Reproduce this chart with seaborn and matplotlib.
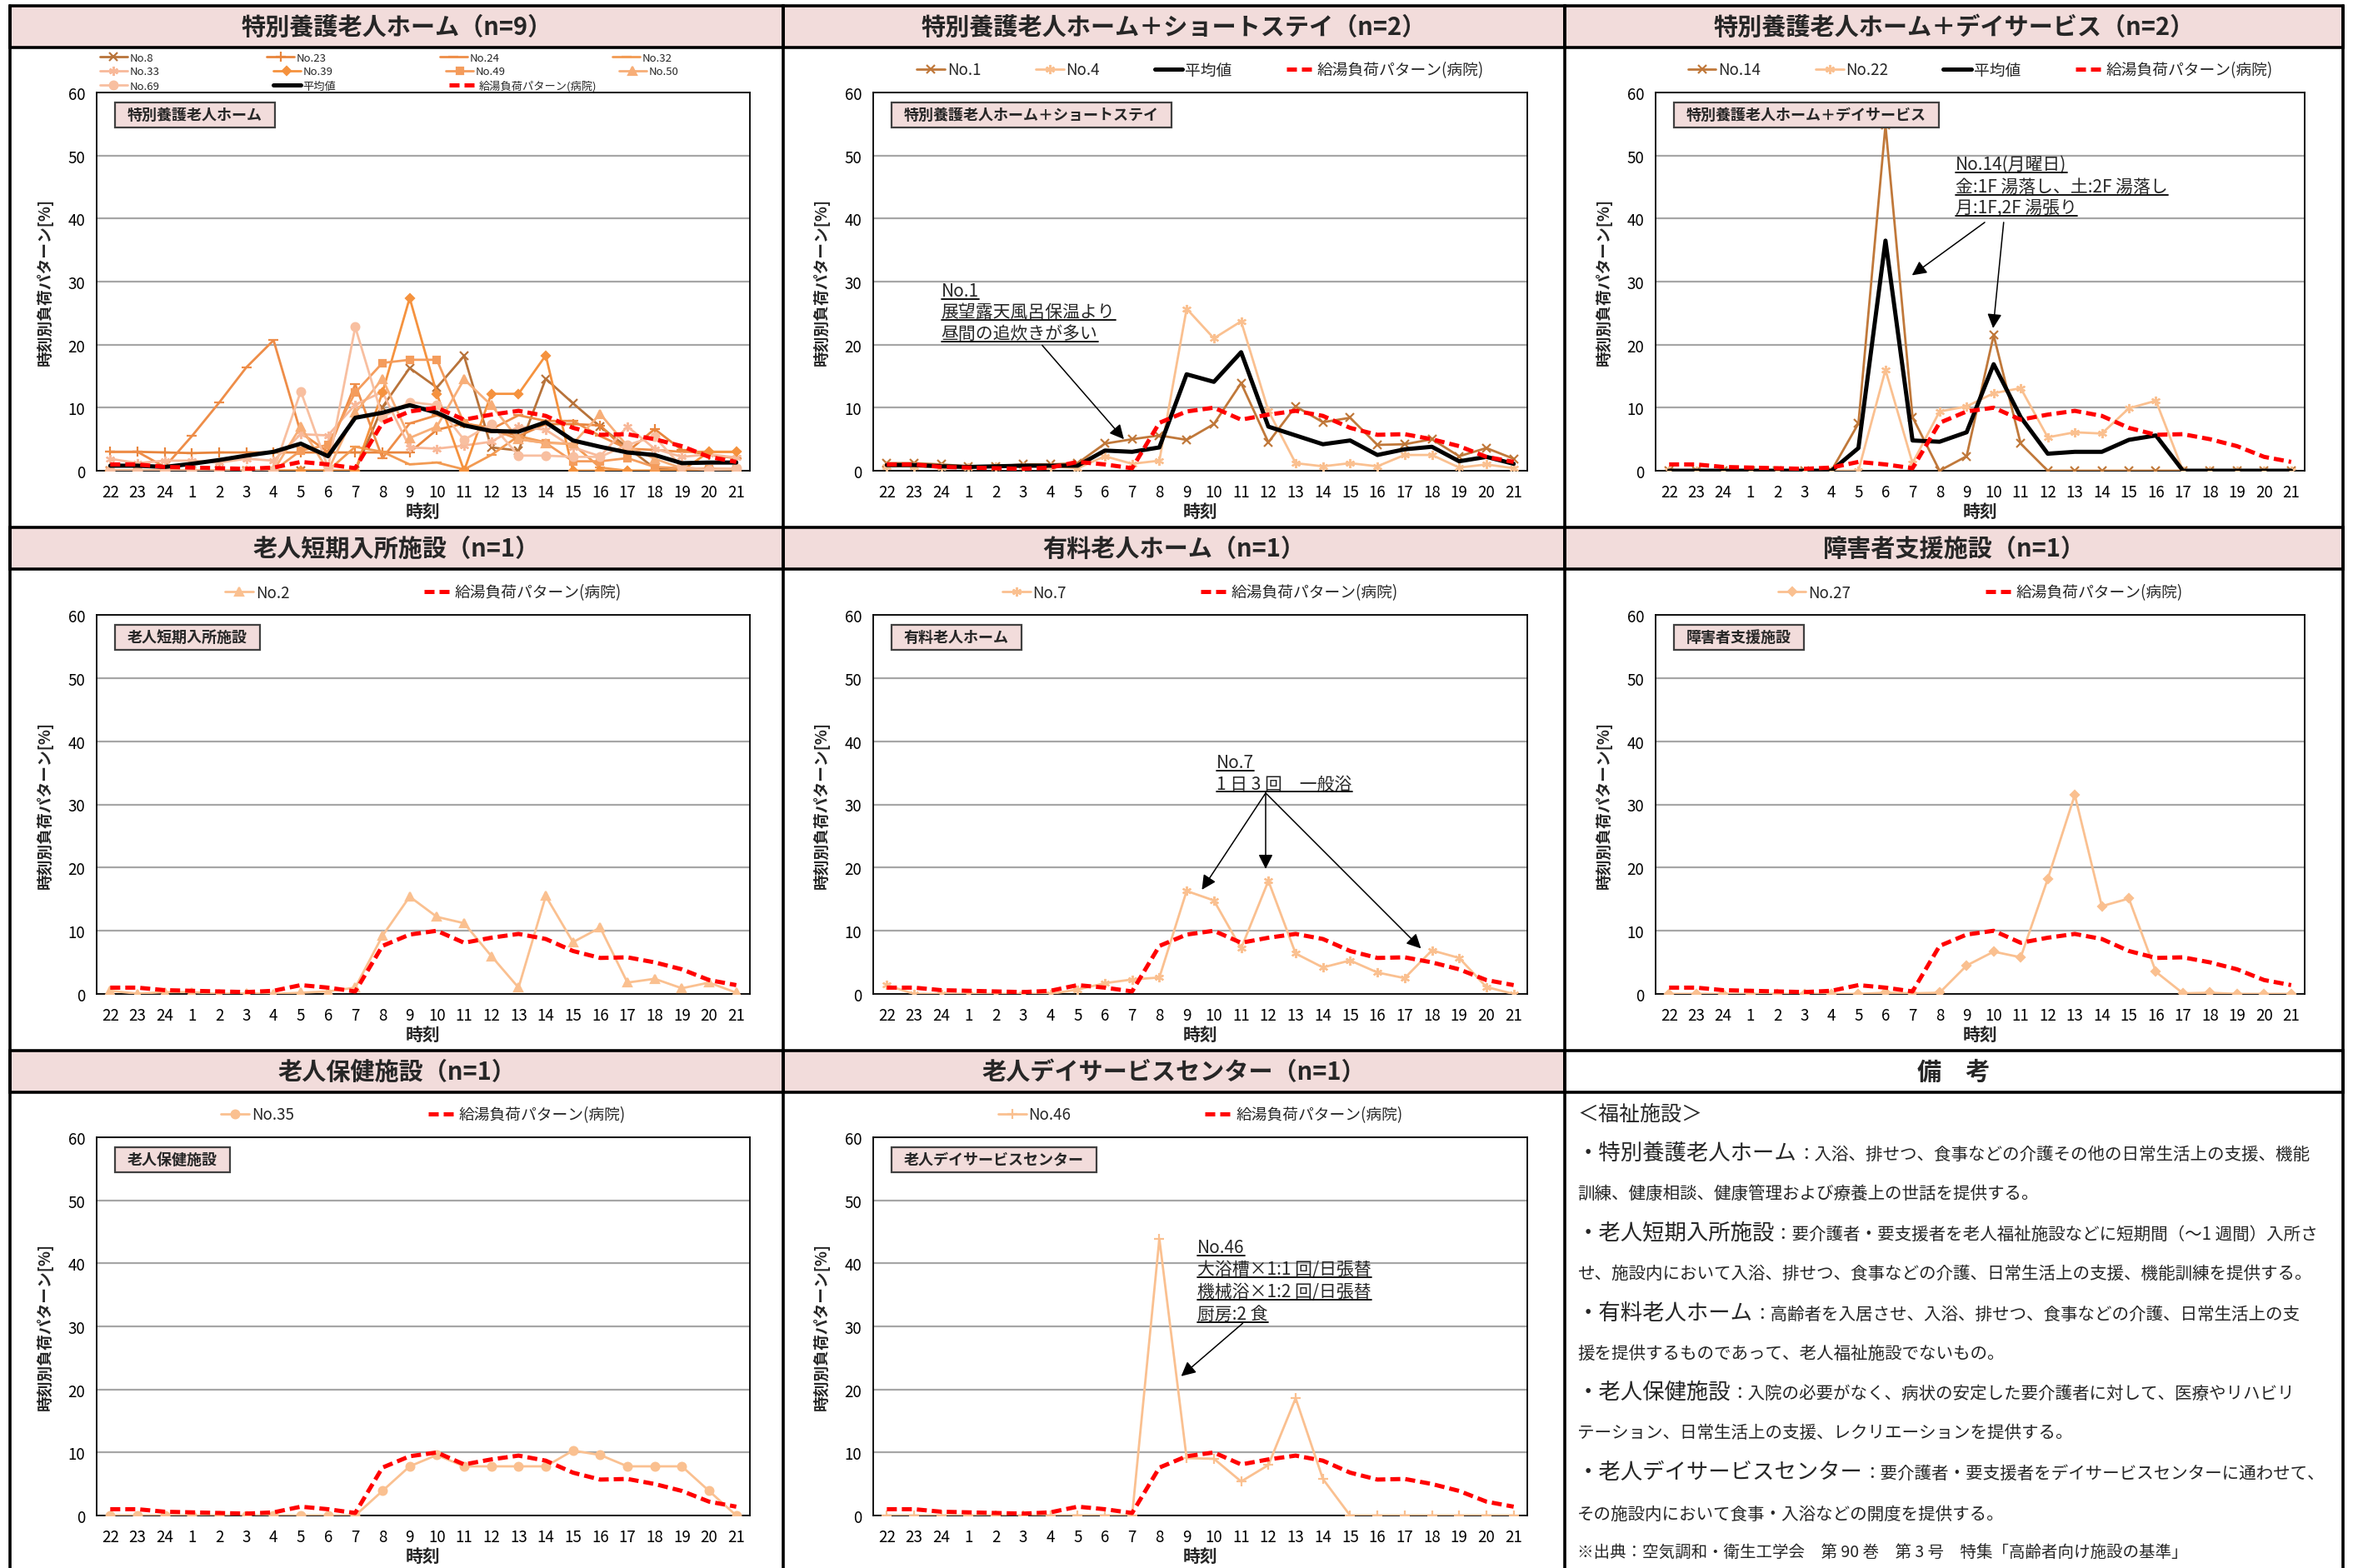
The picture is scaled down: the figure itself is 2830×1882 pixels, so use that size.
import numpy as np
import matplotlib
matplotlib.use('Agg')
import matplotlib.pyplot as plt
import seaborn as sns
from matplotlib.patches import Rectangle
from matplotlib.lines import Line2D

# ---------------- data ----------------
hours = ['22', '23', '24', '1', '2', '3', '4', '5', '6', '7', '8', '9', '10',
         '11', '12', '13', '14', '15', '16', '17', '18', '19', '20', '21']

hospital = [1.0, 1.0, 0.6, 0.5, 0.4, 0.3, 0.5, 1.4, 1.0, 0.4, 7.6, 9.4, 10.0,
            8.1, 8.9, 9.5, 8.7, 6.8, 5.7, 5.8, 5.0, 3.9, 2.2, 1.4]

# panel 1 : 特別養護老人ホーム (n=9)
no8 = [0, 0, 0, 0, 0, 0, 0, 0, 0, 0, 10.1, 16.3, 13.2, 18.2, 3.7, 3.2, 14.6, 10.7, 7.0, 3.7, 0.4, 0, 0, 0]
no23 = [3.0, 3.0, 2.9, 2.8, 2.9, 2.9, 2.9, 2.9, 2.9, 2.9, 2.9, 2.9, 6.5, 7.5, 6.8, 5.5, 7.4, 7.4, 7.2, 3.0, 6.6, 3.3, 2.5, 2.0]
no24 = [3.0, 3.0, 0.6, 5.5, 10.8, 16.4, 20.7, 6.0, 3.0, 13.7, 2.0, 7.5, 8.8, 7.5, 6.6, 8.8, 7.9, 7.9, 5.5, 3.5, 3.3, 3.0, 3.0, 3.0]
no32 = [0, 0, 0, 0, 0, 0, 0, 0, 0, 3.8, 3.0, 1.0, 1.3, 0.2, 2.5, 5.5, 4.5, 4.2, 0.5, 0, 0, 0, 0, 0]
no33 = [1.9, 1.2, 1.6, 1.6, 1.3, 1.9, 1.6, 5.8, 5.6, 10.5, 12.5, 3.7, 3.5, 4.0, 4.6, 7.0, 6.5, 3.7, 2.3, 7.0, 3.5, 2.2, 2.6, 2.1]
no39 = [0, 0, 0, 0, 0, 0, 0, 0, 0, 0, 12.4, 27.4, 12.2, 0, 12.2, 12.2, 18.3, 0, 0, 0, 0, 0, 3.0, 3.0]
no49 = [0, 0, 0, 0, 0, 0, 0, 3.2, 4.1, 12.4, 17.1, 17.6, 17.6, 7.5, 6.6, 5.0, 4.4, 1.5, 1.5, 2.0, 0.6, 0.4, 0.3, 0.3]
no50 = [0, 0, 0, 0, 0, 0, 0, 7.0, 0, 9.2, 14.6, 5.2, 7.0, 14.5, 10.4, 5.0, 4.4, 4.3, 9.0, 3.9, 1.9, 0.4, 0.3, 0]
no69 = [0, 0, 0, 0, 0, 0, 0, 12.6, 0.5, 22.8, 8.5, 10.9, 10.4, 4.9, 7.4, 2.4, 2.4, 2.2, 2.2, 4.1, 5.4, 0.6, 0.1, 0.4]
mean1 = [0.8, 0.8, 0.6, 1.1, 1.7, 2.4, 3.0, 4.3, 2.3, 8.4, 9.2, 10.4, 9.2, 7.2, 6.3, 6.2, 7.7, 4.8, 3.8, 2.9, 2.5, 1.2, 1.3, 1.3]

# panel 2 : 特別養護老人ホーム＋ショートステイ (n=2)
no1 = [1.2, 1.2, 1.0, 0.7, 0.7, 1.0, 1.0, 1.2, 4.3, 5.0, 5.6, 4.9, 7.4, 13.9, 4.5, 10.2, 7.7, 8.4, 4.1, 4.2, 5.0, 2.3, 3.6, 1.9]
no4 = [0.7, 0.7, 0.5, 0.5, 0.7, 0.7, 0.7, 0.4, 2.3, 1.1, 1.6, 25.7, 21.0, 23.7, 9.5, 1.2, 0.7, 1.2, 0.7, 2.5, 2.5, 0.5, 1.0, 0.4]
mean2 = [0.9, 0.9, 0.7, 0.6, 0.7, 0.8, 0.8, 0.8, 3.2, 3.0, 3.7, 15.3, 14.1, 18.8, 7.0, 5.6, 4.2, 4.8, 2.5, 3.4, 3.8, 1.5, 2.2, 1.1]

# panel 3 : 特別養護老人ホーム＋デイサービス (n=2)
no14 = [0, 0, 0, 0, 0, 0, 0, 7.5, 54.8, 8.5, 0, 2.3, 21.5, 4.3, 0, 0, 0, 0, 0, 0, 0, 0, 0, 0]
no22 = [0, 0, 0, 0, 0, 0, 0, 0, 16.0, 1.2, 9.4, 10.2, 12.3, 13.1, 5.3, 6.1, 5.9, 9.9, 11.1, 0, 0, 0, 0, 0]
mean3 = [0, 0, 0, 0, 0, 0, 0, 3.6, 36.5, 4.8, 4.6, 6.1, 16.9, 8.5, 2.7, 3.0, 3.0, 4.9, 5.6, 0, 0, 0, 0, 0]

# single-facility panels
no2 = [0.5, 0.05, 0.3, 0.3, 0, 0.1, 0, 0.2, 0.4, 1.0, 9.2, 15.4, 12.2, 11.2, 6.0, 1.0, 15.5, 8.2, 10.5, 1.8, 2.4, 0.9, 1.8, 0.2]
no7 = [1.4, 0, 0, 0, 0, 0, 0, 0.7, 1.7, 2.3, 2.6, 16.3, 14.8, 7.2, 17.9, 6.4, 4.2, 5.3, 3.4, 2.5, 6.9, 5.7, 1.1, 0]
no27 = [0, 0, 0, 0, 0, 0, 0, 0, 0.2, 0.1, 0.2, 4.5, 6.7, 5.8, 18.2, 31.5, 13.9, 15.1, 3.5, 0.1, 0.2, 0, 0, 0]
no35 = [0, 0, 0, 0, 0, 0, 0, 0, 0, 0, 3.9, 7.8, 9.6, 7.8, 7.8, 7.8, 7.8, 10.3, 9.6, 7.8, 7.8, 7.8, 3.9, 0]
no46 = [0, 0, 0, 0, 0, 0, 0, 0, 0, 0, 43.9, 9.1, 9.0, 5.4, 8.0, 18.6, 5.8, 0, 0, 0, 0, 0, 0, 0]

titles = ['特別養護老人ホーム（n=9）', '特別養護老人ホーム＋ショートステイ（n=2）',
          '特別養護老人ホーム＋デイサービス（n=2）', '老人短期入所施設（n=1）',
          '有料老人ホーム（n=1）', '障害者支援施設（n=1）', '老人保健施設（n=1）',
          '老人デイサービスセンター（n=1）', '備　考']
box_labels = ['特別養護老人ホーム', '特別養護老人ホーム＋ショートステイ',
              '特別養護老人ホーム＋デイサービス', '老人短期入所施設', '有料老人ホーム',
              '障害者支援施設', '老人保健施設', '老人デイサービスセンター']

y_label = '時刻別負荷パターン[%]'
x_label = '時刻'
mean_label = '平均値'
hosp_label = '給湯負荷パターン(病院)'

notes = [
    (None, '＜福祉施設＞'),
    ('・特別養護老人ホーム', '：入浴、排せつ、食事などの介護その他の日常生活上の支援、機能'),
    (None, '訓練、健康相談、健康管理および療養上の世話を提供する。'),
    ('・老人短期入所施設', '：要介護者・要支援者を老人福祉施設などに短期間（～1 週間）入所さ'),
    (None, 'せ、施設内において入浴、排せつ、食事などの介護、日常生活上の支援、機能訓練を提供する。'),
    ('・有料老人ホーム', '：高齢者を入居させ、入浴、排せつ、食事などの介護、日常生活上の支'),
    (None, '援を提供するものであって、老人福祉施設でないもの。'),
    ('・老人保健施設', '：入院の必要がなく、病状の安定した要介護者に対して、医療やリハビリ'),
    (None, 'テーション、日常生活上の支援、レクリエーションを提供する。'),
    ('・老人デイサービスセンター', '：要介護者・要支援者をデイサービスセンターに通わせて、'),
    (None, 'その施設内において食事・入浴などの開度を提供する。'),
    (None, '※出典：空気調和・衛生工学会　第 90 巻　第 3 号　特集「高齢者向け施設の基準」'),
]

# ---------------- style ----------------
sns.set_theme(style='white')
plt.rcParams['font.family'] = ['Noto Sans CJK JP', 'DejaVu Sans']
plt.rcParams['axes.unicode_minus'] = False

W, H = 2830, 1883
fig = plt.figure(figsize=(W / 100, H / 100), dpi=100)
fig.patch.set_facecolor('white')

PINK = '#F2DCDB'
BROWN = '#C0783A'
LIGHT = '#FAC090'
AST = (6, 2, 0)

colx = [(12, 940), (940, 1878), (1878, 2812)]
bands = [(8, 58), (634, 684), (1262, 1312)]
axcols = [(116, 900), (1048, 1833), (1987, 2766)]
axrows = [(112, 566), (739, 1194), (1366, 1820)]


def fr(x0, y0, x1, y1):
    return [x0 / W, 1 - y1 / H, (x1 - x0) / W, (y1 - y0) / H]


# frame & title bands
for r, (b0, b1) in enumerate(bands):
    for c, (x0, x1) in enumerate(colx):
        fc = 'white' if (r == 2 and c == 2) else PINK
        fig.add_artist(Rectangle((x0 / W, 1 - b1 / H), (x1 - x0) / W, (b1 - b0) / H,
                                 transform=fig.transFigure, fc=fc, ec='black', lw=2.6, zorder=1))
        fig.text((x0 + x1) / 2 / W, 1 - (b0 + b1) / 2 / H, titles[r * 3 + c],
                 ha='center', va='center', fontsize=21, fontweight='bold', zorder=3)
for x in [12, 940, 1878, 2812]:
    fig.add_artist(Line2D([x / W, x / W], [1 - 8 / H, 0], transform=fig.transFigure,
                          color='black', lw=2.6, zorder=2))

x = np.arange(len(hours))

panels = [
    dict(series=[('No.8', no8, '#B8733A', 'x', 7), ('No.23', no23, '#E8853C', '+', 9),
                 ('No.24', no24, '#EE8D48', '_', 8), ('No.32', no32, '#F29A52', '_', 9),
                 ('No.33', no33, '#F8B99A', AST, 8), ('No.39', no39, '#F5923E', 'D', 5),
                 ('No.49', no49, '#F49C5C', 's', 6), ('No.50', no50, '#F7AE78', '^', 7),
                 ('No.69', no69, '#F8BFA0', 'o', 7)], mean=mean1),
    dict(series=[('No.1', no1, BROWN, 'x', 7), ('No.4', no4, LIGHT, AST, 8)], mean=mean2),
    dict(series=[('No.14', no14, BROWN, 'x', 7), ('No.22', no22, LIGHT, AST, 8)], mean=mean3),
    dict(series=[('No.2', no2, LIGHT, '^', 7)], mean=None),
    dict(series=[('No.7', no7, LIGHT, AST, 8)], mean=None),
    dict(series=[('No.27', no27, LIGHT, 'D', 5)], mean=None),
    dict(series=[('No.35', no35, LIGHT, 'o', 7)], mean=None),
    dict(series=[('No.46', no46, LIGHT, '+', 9)], mean=None),
]

axes = []
for i, p in enumerate(panels):
    r, c = divmod(i, 3)
    l, rr = axcols[c]
    t, b = axrows[r]
    ax = fig.add_axes(fr(l, t, rr, b))
    axes.append(ax)
    for name, vals, col, mk, ms in p['series']:
        sns.lineplot(x=x, y=vals, ax=ax, color=col, marker=mk, markersize=ms,
                     markeredgecolor=col, markerfacecolor=col, markeredgewidth=1.6,
                     linewidth=2.0, label=name, errorbar=None, sort=False, zorder=3)
    if p['mean'] is not None:
        sns.lineplot(x=x, y=p['mean'], ax=ax, color='black', linewidth=3.6,
                     label=mean_label, errorbar=None, sort=False, zorder=4)
    sns.lineplot(x=x, y=hospital, ax=ax, color='#FF0000', linewidth=3.6,
                 linestyle=(0, (2.4, 1.2)), label=hosp_label, errorbar=None, sort=False, zorder=5)
    if ax.get_legend() is not None:
        ax.get_legend().remove()

    ax.set_xlim(-0.5, len(hours) - 0.5)
    ax.set_ylim(0, 60)
    ax.set_yticks([0, 10, 20, 30, 40, 50, 60])
    ax.set_xticks(x)
    ax.set_xticklabels(hours)
    ax.set_xticks(np.arange(len(hours) + 1) - 0.5, minor=True)
    ax.tick_params(axis='x', which='major', length=0, labelsize=13.5, pad=11, colors='black')
    ax.tick_params(axis='x', which='minor', length=6, width=1.2, direction='out', color='black')
    ax.tick_params(axis='y', length=0, labelsize=13.5, pad=10, colors='black')
    ax.yaxis.grid(True, color='#A6A6A6', lw=1.6)
    ax.xaxis.grid(False)
    ax.set_axisbelow(True)
    for s in ax.spines.values():
        s.set_color('black')
        s.set_linewidth(1.3)
        s.set_visible(True)
    ax.set_ylabel(y_label, fontsize=13.5, fontweight='bold')
    ax.set_xlabel(x_label, fontsize=15, fontweight='bold')
    ax.yaxis.set_label_coords(-52 / (rr - l), 0.5)
    ax.xaxis.set_label_coords(0.5, -38 / (b - t))

    lines = {ln.get_label(): ln for ln in ax.get_lines()}
    if i == 0:
        rows_leg = [['No.8', 'No.23', 'No.24', 'No.32'],
                    ['No.33', 'No.39', 'No.49', 'No.50'],
                    ['No.69', mean_label, hosp_label]]
        offs = [42, 25, 8]
        for k, names in enumerate(rows_leg):
            leg = ax.legend([lines[n] for n in names], names, ncol=4, loc='center left',
                            bbox_to_anchor=(4 / (rr - l), 1 + offs[k] / (b - t)),
                            frameon=False, fontsize=9.5, handlelength=2.5, handletextpad=0.2,
                            columnspacing=10.3, borderaxespad=0, borderpad=0)
            if k < 2:
                ax.add_artist(leg)
    else:
        names = [s[0] for s in p['series']] + ([mean_label] if p['mean'] is not None else []) + [hosp_label]
        cs = 3.5 if len(names) == 4 else 8.6
        ax.legend([lines[n] for n in names], names, ncol=len(names), loc='center',
                  bbox_to_anchor=(0.5, 1 + 27 / (b - t)), frameon=False, fontsize=13.5,
                  handlelength=1.8, handletextpad=0.15, columnspacing=cs,
                  borderaxespad=0, borderpad=0)

# ---------- annotations ----------
ann_texts = [
    (1, 2.0, [28.6, 25.3, 21.8], ['No.1', '展望露天風呂保温より', '昼間の追炊きが多い'],
     [((5.7, 19.9), (8.7, 5.0))]),
    (2, 10.6, [48.6, 45.1, 41.8], ['No.14(月曜日)', '金:1F 湯落し、土:2F 湯落し', '月:1F,2F 湯張り'],
     [((11.67, 39.4), (8.98, 31.0)), ((12.37, 39.4), (11.98, 22.6))]),
    (4, 12.1, [36.6, 33.3], ['No.7', '1 日 3 回　一般浴'],
     [((13.9, 31.8), (11.56, 16.5)), ((13.9, 31.8), (13.9, 19.8)), ((13.9, 31.8), (19.6, 7.2))]),
    (7, 11.4, [42.6, 39.1, 35.6, 32.0], ['No.46', '大浴槽×1:1 回/日張替', '機械浴×1:2 回/日張替', '厨房:2 食'],
     [((13.06, 30.5), (10.8, 22.1))]),
]
renderer = fig.canvas.get_renderer()
for pi, x0, ys, strs, arrows in ann_texts:
    ax = axes[pi]
    for yy, s in zip(ys, strs):
        t = ax.text(x0, yy, s, fontsize=15, ha='left', va='center', zorder=6)
        bb = t.get_window_extent(renderer)
        inv = ax.transAxes.inverted()
        (ax0, ay0) = inv.transform((bb.x0, bb.y0 + 1))
        (ax1, _) = inv.transform((bb.x1, bb.y0))
        ax.add_line(Line2D([ax0, ax1], [ay0, ay0], transform=ax.transAxes, color='black',
                           lw=1.3, clip_on=False, zorder=6))
    for start, end in arrows:
        ax.annotate('', xy=end, xytext=start,
                    arrowprops=dict(arrowstyle='-|>', color='black', lw=1.1, mutation_scale=26,
                                    shrinkA=0, shrinkB=0), zorder=6)

# label boxes
for i, ax in enumerate(axes):
    c = i % 3
    l, rr = axcols[c]
    t_ = ax.text(0.028, 0.974, box_labels[i], transform=ax.transAxes, ha='left', va='top',
                 fontsize=13, fontweight='bold', zorder=8)
    bb = t_.get_window_extent(renderer)
    inv = ax.transAxes.inverted()
    (bx0, by0) = inv.transform((bb.x0 - 15, bb.y0 - 6))
    (bx1, by1) = inv.transform((bb.x1 + 15, bb.y1 + 5))
    t_.set_position((0.028 + (0.028 - bx0), 0.974 - (by1 - 0.974)))
    bb = t_.get_window_extent(renderer)
    (bx0, by0) = inv.transform((bb.x0 - 15, bb.y0 - 6))
    (bx1, by1) = inv.transform((bb.x1 + 15, bb.y1 + 5))
    ax.add_patch(Rectangle((bx0, by0), bx1 - bx0, by1 - by0, transform=ax.transAxes,
                           fc=PINK, ec='#404040', lw=1.6, zorder=7))

# ---------- notes panel ----------
note_y = [1337, 1384, 1431, 1480, 1527, 1576, 1623, 1671, 1718, 1767, 1816, 1861]
nx = 1893
for k, ((head, desc), yc) in enumerate(zip(notes, note_y)):
    yb = 1 - (yc + 8) / H
    if k == 0:
        fig.text(nx / W, yb, desc, fontsize=18, ha='left', va='baseline')
        continue
    if head is None:
        fs = 14.0 if k == len(notes) - 1 else 14.8
        fig.text(nx / W, yb, desc, fontsize=fs, ha='left', va='baseline')
    else:
        th = fig.text(nx / W, yb, head, fontsize=19, ha='left', va='baseline')
        bb = th.get_window_extent(renderer)
        fig.text(bb.x1 / W, yb, desc, fontsize=14.8, ha='left', va='baseline')

fig.savefig('out.png', dpi=100, facecolor='white')
